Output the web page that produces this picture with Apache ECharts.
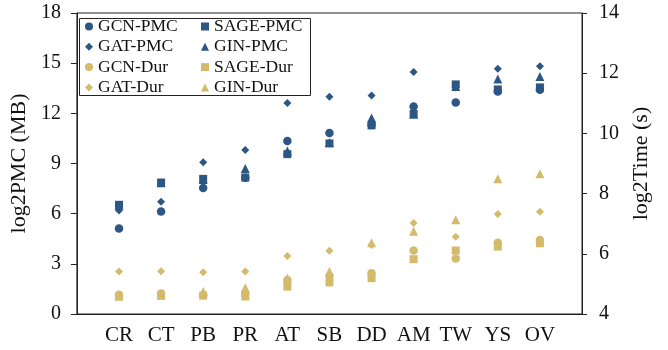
<!DOCTYPE html>
<html>
<head>
<meta charset="utf-8">
<script src="https://cdn.jsdelivr.net/npm/echarts@6/dist/echarts.min.js"></script>
<style>
html,body{margin:0;padding:0;background:#fff;}
#container{width:668px;height:350px;}
</style>
</head>
<body>
<div id="container"></div>
<script>
var cats=['CR','CT','PB','PR','AT','SB','DD','AM','TW','YS','OV'];
// log2 PMC (MB), left axis
var gcnPmc =[5.11,6.13,7.54,8.15,10.34,10.82,11.30,12.41,12.65,13.31,13.41];
var sagePmc=[6.53,7.86,8.08,8.16,9.56,10.20,11.28,11.96,13.73,13.43,13.55];
var gatPmc =[6.19,6.72,9.08,9.80,12.62,12.99,13.07,14.47,13.55,14.67,14.81];
var ginPmc =[6.50,7.85,8.05,8.70,9.75,10.25,11.72,11.95,13.60,14.05,14.21];
// log2 time (s), right axis
var gcnDur =[4.64,4.68,4.63,4.68,5.13,5.26,5.35,6.11,5.84,6.37,6.46];
var sageDur=[4.58,4.62,4.61,4.58,4.91,5.05,5.19,5.82,6.11,6.24,6.35];
var gatDur =[5.41,5.42,5.39,5.41,5.93,6.10,6.29,7.02,6.57,7.32,7.40];
var ginDur =[4.60,4.62,4.75,4.87,5.20,5.41,6.37,6.75,7.13,8.49,8.66];
var leftTicks={min:0,max:18,step:3};
var rightTicks={min:4,max:14,step:2};

var blue='#2c5684', gold='#d3bb6b';
var font='"Liberation Serif","Times New Roman",serif';

function pts(arr){
	var out=[];
	for(var i=0;i<arr.length;i++) out.push([i,arr[i]]);
	return out;
}
function mk(name,arr,sym,size,color,axis){
	return {
		name:name,type:'scatter',yAxisIndex:axis,
		symbol:sym,symbolSize:size,
		itemStyle:{color:color,opacity:1},
		emphasis:{disabled:true},
		data:pts(arr)
	};
}
var legendText={fontFamily:font,fontSize:17.5,color:'#111',lineHeight:17};

var myChart=echarts.init(document.getElementById('container'));
var option={
	animation:false,
	grid:{left:75,right:86,top:13,bottom:36,show:true,borderColor:'#222',borderWidth:1,backgroundColor:'transparent'},
	legend:[{
		orient:'vertical',left:85,top:17.5,itemWidth:8,itemHeight:8,itemGap:2.3,
		padding:0,textStyle:legendText,
		data:[{name:'GCN-PMC',icon:'circle'},{name:'GAT-PMC',icon:'diamond'},{name:'GCN-Dur',icon:'circle'},{name:'GAT-Dur',icon:'diamond'}]
	},{
		orient:'vertical',left:201,top:17.5,itemWidth:8,itemHeight:8,itemGap:2.3,
		padding:0,textStyle:legendText,
		data:[{name:'SAGE-PMC',icon:'rect'},{name:'GIN-PMC',icon:'triangle'},{name:'SAGE-Dur',icon:'rect'},{name:'GIN-Dur',icon:'triangle'}]
	}],
	graphic:[{
		type:'rect',left:77,top:16,z:100,silent:true,
		shape:{width:231,height:77},
		style:{fill:'none',stroke:'#222',lineWidth:1}
	}],
	xAxis:{
		type:'value',min:-1,max:11,interval:1,
		axisLine:{onZero:false,lineStyle:{color:'#222',width:1}},
		axisTick:{show:false},
		splitLine:{show:false},
		axisLabel:{
			fontFamily:font,fontSize:21,color:'#111',margin:11,
			formatter:function(v){return cats[v]!==undefined?cats[v]:'';}
		}
	},
	yAxis:[{
		type:'value',position:'left',min:leftTicks.min,max:leftTicks.max,interval:leftTicks.step,
		name:'log2PMC (MB)',nameLocation:'middle',nameGap:41,nameRotate:90,
		nameTextStyle:{fontFamily:font,fontSize:22,color:'#111'},
		axisLine:{show:true,onZero:false,lineStyle:{color:'#222',width:1}},
		axisTick:{show:true,inside:false,length:6,lineStyle:{color:'#222'}},
		splitLine:{show:false},
		axisLabel:{fontFamily:font,fontSize:20,color:'#111',margin:16}
	},{
		type:'value',position:'right',min:rightTicks.min,max:rightTicks.max,interval:rightTicks.step,
		name:'log2Time (s)',nameLocation:'middle',nameGap:43,nameRotate:90,
		nameTextStyle:{fontFamily:font,fontSize:22,color:'#111'},
		axisLine:{show:true,onZero:false,lineStyle:{color:'#222',width:1}},
		axisTick:{show:true,inside:false,length:5,lineStyle:{color:'#222'}},
		splitLine:{show:false},
		axisLabel:{fontFamily:font,fontSize:20,color:'#111',margin:17}
	}],
	series:[
		mk('GCN-PMC',gcnPmc,'circle',8.5,blue,0),
		mk('GAT-PMC',gatPmc,'diamond',8,blue,0),
		mk('GIN-PMC',ginPmc,'triangle',9,blue,0),
		mk('SAGE-PMC',sagePmc,'rect',8,blue,0),
		mk('GCN-Dur',gcnDur,'circle',8.5,gold,1),
		mk('GAT-Dur',gatDur,'diamond',8,gold,1),
		mk('GIN-Dur',ginDur,'triangle',9,gold,1),
		mk('SAGE-Dur',sageDur,'rect',8,gold,1)
	]
};
myChart.setOption(option);
</script>
</body>
</html>
